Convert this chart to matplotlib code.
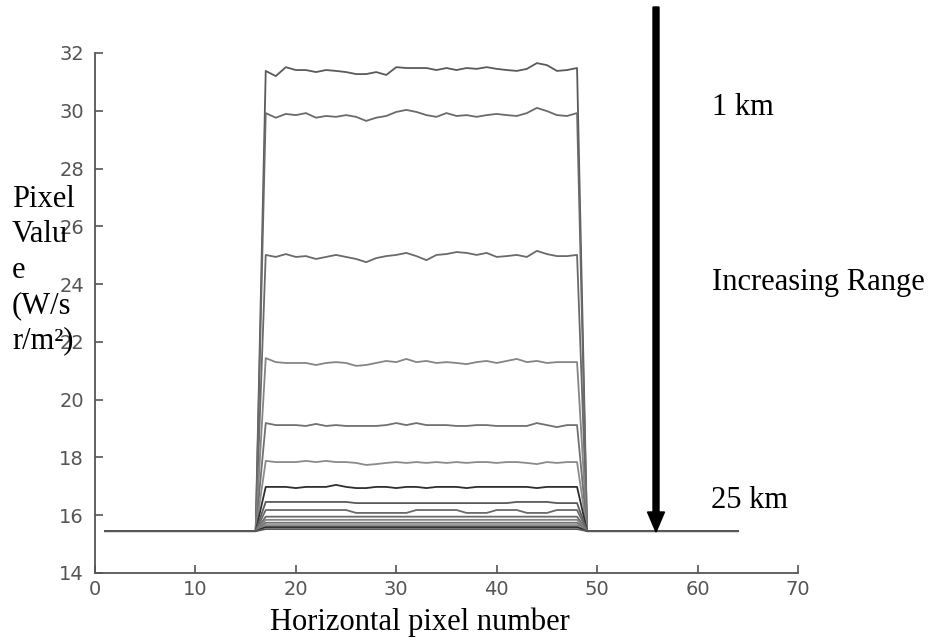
import numpy as np
import matplotlib.pyplot as plt
from matplotlib.patches import FancyArrow
from matplotlib.transforms import IdentityTransform

# ---------------- data ----------------
pixel_x = np.arange(1, 65)            # horizontal pixel numbers 1..64
target_x = np.arange(17, 49)          # pixels covered by the target
background = 15.45                    # background pixel value

curve_01 = [31.38, 31.20, 31.51, 31.41, 31.41, 31.34, 31.41, 31.38, 31.34, 31.27, 31.27, 31.34,
            31.24, 31.51, 31.48, 31.48, 31.48, 31.41, 31.48, 31.41, 31.48, 31.45, 31.51, 31.45,
            31.41, 31.38, 31.45, 31.65, 31.58, 31.38, 31.41, 31.48]
curve_02 = [29.92, 29.76, 29.89, 29.85, 29.92, 29.76, 29.82, 29.79, 29.85, 29.79, 29.65, 29.76,
            29.82, 29.96, 30.03, 29.96, 29.85, 29.79, 29.92, 29.82, 29.85, 29.79, 29.85, 29.89,
            29.85, 29.82, 29.92, 30.10, 29.99, 29.85, 29.82, 29.92]
curve_03 = [25.01, 24.94, 25.04, 24.94, 24.97, 24.87, 24.94, 25.01, 24.94, 24.87, 24.76, 24.90,
            24.97, 25.01, 25.08, 24.97, 24.83, 25.01, 25.04, 25.11, 25.08, 25.01, 25.08, 24.94,
            24.97, 25.01, 24.94, 25.15, 25.04, 24.97, 24.97, 25.01]
curve_04 = [21.44, 21.30, 21.27, 21.27, 21.27, 21.20, 21.27, 21.30, 21.27, 21.17, 21.20, 21.27,
            21.34, 21.30, 21.41, 21.30, 21.34, 21.27, 21.30, 21.27, 21.23, 21.30, 21.34, 21.27,
            21.34, 21.41, 21.30, 21.34, 21.27, 21.30, 21.30, 21.30]
curve_05 = [19.19, 19.12, 19.12, 19.12, 19.09, 19.16, 19.09, 19.12, 19.09, 19.09, 19.09, 19.09,
            19.12, 19.19, 19.12, 19.19, 19.12, 19.12, 19.12, 19.09, 19.09, 19.12, 19.12, 19.09,
            19.09, 19.09, 19.09, 19.19, 19.12, 19.05, 19.12, 19.12]
curve_06 = [17.88, 17.84, 17.84, 17.84, 17.88, 17.84, 17.88, 17.84, 17.84, 17.81, 17.74, 17.77,
            17.81, 17.84, 17.81, 17.84, 17.81, 17.84, 17.81, 17.84, 17.81, 17.84, 17.84, 17.81,
            17.84, 17.84, 17.81, 17.77, 17.84, 17.81, 17.84, 17.84]
curve_07 = [16.98, 16.98, 16.98, 16.94, 16.98, 16.98, 16.98, 17.05, 16.98, 16.94, 16.94, 16.98,
            16.98, 16.94, 16.98, 16.98, 16.94, 16.98, 16.98, 16.98, 16.94, 16.98, 16.98, 16.98,
            16.98, 16.98, 16.98, 16.94, 16.98, 16.98, 16.98, 16.98]
curve_08 = [16.46, 16.46, 16.46, 16.46, 16.46, 16.46, 16.46, 16.46, 16.46, 16.42, 16.42, 16.42,
            16.42, 16.42, 16.42, 16.42, 16.42, 16.42, 16.42, 16.42, 16.42, 16.42, 16.42, 16.42,
            16.42, 16.46, 16.46, 16.46, 16.46, 16.42, 16.42, 16.42]
curve_09 = [16.18, 16.18, 16.18, 16.18, 16.18, 16.18, 16.18, 16.18, 16.18, 16.08, 16.08, 16.08,
            16.08, 16.08, 16.08, 16.18, 16.18, 16.18, 16.18, 16.18, 16.08, 16.08, 16.08, 16.18,
            16.18, 16.18, 16.08, 16.08, 16.08, 16.18, 16.18, 16.18]
curve_10 = [15.95] * 32
curve_11 = [15.84] * 32
curve_12 = [15.74] * 32
curve_13 = [15.66] * 32
curve_14 = [15.59] * 32
curve_15 = [15.52] * 32

curves = [curve_01, curve_02, curve_03, curve_04, curve_05, curve_06, curve_07, curve_08,
          curve_09, curve_10, curve_11, curve_12, curve_13, curve_14, curve_15]

x_ticks = [0, 10, 20, 30, 40, 50, 60, 70]
y_ticks = [14, 16, 18, 20, 22, 24, 26, 28, 30, 32]

# MATLAB colour order rendered in grey
line_greys = ['#5a5a5a', '#6a6a6a', '#6a6a6a', '#858585', '#707070', '#8a8a8a', '#2e2e2e']

# ---------------- figure ----------------
W, H = 932, 638
fig = plt.figure(figsize=(W / 100, H / 100), dpi=100)
ax = fig.add_axes([95 / W, 1 - 573 / H, (798 - 95) / W, (573 - 53) / H])

for i, c in enumerate(curves):
    y = np.full(pixel_x.shape, background, dtype=float)
    y[np.isin(pixel_x, target_x)] = c
    ax.plot(pixel_x, y, color=line_greys[i % len(line_greys)], lw=1.3)

ax.set_xlim(0, 70)
ax.set_ylim(14, 32)
ax.set_xticks(x_ticks)
ax.set_yticks(y_ticks)
for s in ['top', 'right']:
    ax.spines[s].set_visible(False)
for s in ['left', 'bottom']:
    ax.spines[s].set_color('#555555')
    ax.spines[s].set_linewidth(1.3)
ax.tick_params(direction='in', length=6, width=1.2, color='#555555',
               labelcolor='#555555', labelsize=14)
ax.tick_params(axis='x', pad=5)
ax.tick_params(axis='y', pad=8)

serif = 'Liberation Serif'
fs = 22

def ftext(px, py, s, **kw):
    fig.text(px / W, 1 - py / H, s, family=serif, fontsize=fs, color='black',
             va='baseline', **kw)

for line, yb in zip(['Pixel', 'Valu', 'e', '(W/s', 'r/m\u00b2)'], [207, 242, 278, 313, 348]):
    ftext(12, yb, line)

ftext(420, 630, 'Horizontal pixel number', ha='center')
ftext(712, 115, '1 km')
ftext(712, 290, 'Increasing Range')
ftext(711, 508, '25 km')

arrow = FancyArrow(656, H - 7, 0, -(532 - 7), width=6, head_width=17, head_length=20,
                   length_includes_head=True, color='black', transform=IdentityTransform())
fig.add_artist(arrow)

fig.savefig('out.png', dpi=100)
